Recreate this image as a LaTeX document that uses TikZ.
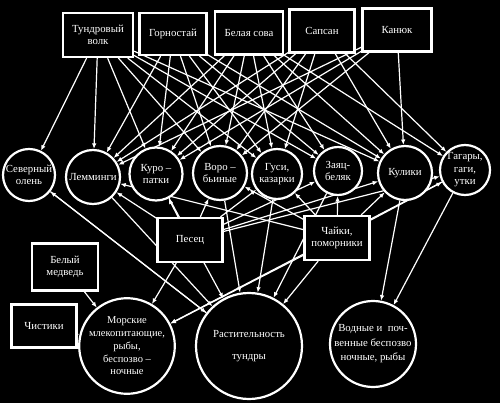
\documentclass[tikz,border=0pt]{standalone}
\usepackage{fontspec}
\setmainfont{Liberation Serif}
\usetikzlibrary{arrows.meta}
\pgfdeclarelayer{back}
\pgfdeclarelayer{edges}
\pgfsetlayers{back,edges,main}
\begin{document}
\begin{tikzpicture}[x=1pt,y=-1pt,
 every node/.style={text=white, font=\fontsize{10.8}{12.5}\selectfont, align=center},
 pbox/.style={draw=white, line width=2.2pt, fill=black, inner sep=0pt},
 pcirc/.style={circle, draw=white, line width=2.2pt, fill=black, inner sep=0pt},
 arr/.style={draw=white, line width=1.2pt, -{Latex[length=5.5pt,width=4.5pt]}}
]
\begin{pgfonlayer}{back}
\fill[black] (0,0) rectangle (500,403);
\end{pgfonlayer}
\useasboundingbox (0,0) rectangle (500,403);
% top predators
\node[pbox, minimum width=70pt, minimum height=44pt] (wolf) at (98,35) {Тундровый\\волк};
\node[pbox, minimum width=67pt, minimum height=42pt] (gorn) at (173,34) {Горностай};
\node[pbox, minimum width=68pt, minimum height=43pt] (sova) at (249,33) {Белая сова};
\node[pbox, minimum width=65pt, minimum height=43pt] (sap) at (322,31) {Сапсан};
\node[pbox, minimum width=69pt, minimum height=43pt] (kan) at (397,30) {Канюк};
% middle circles
\node[pcirc, minimum size=52pt] (olen) at (29,175) {Северный\\олень};
\node[pcirc, minimum size=54pt] (lem) at (93,177) {Лемминги};
\node[pcirc, minimum size=53pt] (kur) at (156,174) {Куро –\\патки};
\node[pcirc, minimum size=54pt] (vor) at (220,173) {Воро –\\бьиные};
\node[pcirc, minimum size=50pt] (gus) at (277,174) {Гуси,\\казарки};
\node[pcirc, minimum size=48pt] (zay) at (338,171) {Заяц-\\беляк};
\node[pcirc, minimum size=54pt] (kul) at (405,173) {Кулики};
\node[pcirc, minimum size=50pt] (gag) at (465,170) {Гагары,\\гаги,\\утки};
% middle boxes
\node[pbox, minimum width=65pt, minimum height=44pt] (pes) at (190,240) {Песец};
\node[pbox, minimum width=65pt, minimum height=44pt] (chay) at (337,238) {Чайки,\\поморники};
% bottom left boxes
\node[pbox, minimum width=66pt, minimum height=47pt] (med) at (65,267) {Белый\\медведь};
\node[pbox, minimum width=65pt, minimum height=43pt] (chis) at (44,326) {Чистики};
% bottom circles
\node[pcirc, minimum size=84pt, font=\fontsize{10.5}{12.8}\selectfont] (mor) at (127,346) {Морские\\млекопитающие,\\рыбы,\\беспозво –\\ночные};
\node[pcirc, minimum size=106pt] (rast) at (249,346) {Растительность\\[10pt]тундры};
\node[pcirc, minimum size=86pt, font=\fontsize{10.8}{14.5}\selectfont] (vod) at (373,344) {Водные и~~поч-\\венные беспозво\\ночные, рыбы};
\begin{pgfonlayer}{edges}
\foreach \a/\b in {wolf/olen, wolf/lem, wolf/kur, wolf/vor, wolf/gus, wolf/zay, wolf/kul,
  gorn/lem, gorn/kur, gorn/vor, gorn/gus, gorn/zay, gorn/kul,
  sova/lem, sova/kur, sova/vor, sova/gus, sova/zay, sova/kul, sova/gag,
  sap/lem, sap/kur, sap/vor, sap/gus, sap/kul, sap/gag,
  kan/lem, kan/kur, kan/vor, kan/kul,
  pes/lem, pes/kur, pes/vor, pes/gus, pes/zay, pes/kul, pes/gag, pes/mor,
  chay/lem, chay/vor, chay/gus, chay/zay, chay/kul, chay/gag, chay/rast, chay/mor,
  olen/rast, lem/rast, kur/rast, vor/rast, gus/rast, zay/rast, rast/olen,
  gag/mor, med/mor, chis/mor, kul/vod, gag/vod}
  \draw[arr] (\a) -- (\b);
\end{pgfonlayer}
\end{tikzpicture}
\end{document}
